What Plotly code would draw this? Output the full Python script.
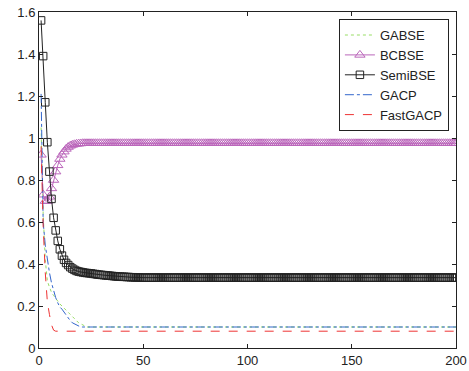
import plotly.graph_objects as go

x_vals = list(range(1, 201))

# GABSE (green dotted)
gabse_head = [1.05, 0.64, 0.42, 0.32, 0.29, 0.265, 0.25, 0.235, 0.225, 0.21,
              0.20, 0.19, 0.18, 0.17, 0.16, 0.15, 0.14, 0.13, 0.12, 0.115,
              0.11, 0.105]
gabse_plateau = 0.10

# BCBSE (purple, triangles)
bcbse_head = [0.92, 0.73, 0.70, 0.70, 0.72, 0.76, 0.80, 0.84, 0.87, 0.90,
              0.92, 0.935, 0.948, 0.957, 0.963, 0.967, 0.970, 0.972, 0.973, 0.974]
bcbse_plateau = 0.975

# SemiBSE (black, squares)
semi_head = [1.56, 1.39, 1.17, 0.98, 0.84, 0.71, 0.62, 0.56, 0.51, 0.47,
             0.44, 0.42, 0.405, 0.395, 0.385, 0.378, 0.372, 0.367, 0.364, 0.362,
             0.360, 0.358, 0.357, 0.356, 0.355, 0.353, 0.352, 0.350, 0.349, 0.348,
             0.347, 0.346, 0.345, 0.344, 0.343, 0.342, 0.341, 0.340, 0.340, 0.339,
             0.339, 0.338, 0.338, 0.337, 0.337, 0.336, 0.336, 0.336, 0.335, 0.335]
semi_plateau = 0.335

# GACP (blue dash-dot)
gacp_head = [1.21, 0.60, 0.49, 0.42, 0.36, 0.31, 0.27, 0.24, 0.215, 0.195,
             0.185, 0.17, 0.155, 0.14, 0.13, 0.12, 0.115, 0.11, 0.105]
gacp_plateau = 0.10

# FastGACP (red dashed)
fast_head = [0.96, 0.58, 0.36, 0.22, 0.16, 0.11, 0.085]
fast_plateau = 0.08


def extend(head, plateau):
    return head + [plateau] * (len(x_vals) - len(head))


gabse = extend(gabse_head, gabse_plateau)
bcbse = extend(bcbse_head, bcbse_plateau)
semi = extend(semi_head, semi_plateau)
gacp = extend(gacp_head, gacp_plateau)
fast = extend(fast_head, fast_plateau)

fig = go.Figure()
fig.add_trace(go.Scatter(x=x_vals, y=gabse, name="GABSE", mode="lines",
                         line=dict(color="#99dd66", width=1, dash="dot")))
fig.add_trace(go.Scatter(x=x_vals, y=bcbse, name="BCBSE", mode="lines+markers",
                         line=dict(color="#bb66bb", width=1),
                         marker=dict(symbol="triangle-up-open", size=9,
                                     color="#bb66bb", line=dict(width=1))))
fig.add_trace(go.Scatter(x=x_vals, y=semi, name="SemiBSE", mode="lines+markers",
                         line=dict(color="#222222", width=1),
                         marker=dict(symbol="square-open", size=7.5,
                                     color="#222222", line=dict(width=1))))
fig.add_trace(go.Scatter(x=x_vals, y=gacp, name="GACP", mode="lines",
                         line=dict(color="#3366cc", width=1, dash="dashdot")))
fig.add_trace(go.Scatter(x=x_vals, y=fast, name="FastGACP", mode="lines",
                         line=dict(color="#ee3333", width=1, dash="dash")))

axis_common = dict(showgrid=False, zeroline=False, showline=True, linecolor="#222222",
                   linewidth=1, mirror="ticks", ticks="inside", ticklen=4,
                   tickcolor="#222222", tickfont=dict(size=13, color="#222222"),
                   automargin=False)

fig.update_layout(
    width=469, height=371,
    margin=dict(l=39, r=13, t=12, b=23),
    paper_bgcolor="white", plot_bgcolor="white",
    font=dict(family="Arial, Liberation Sans, sans-serif", color="#222222"),
    xaxis=dict(range=[0, 200], dtick=50, **axis_common),
    yaxis=dict(range=[0, 1.6], dtick=0.2, **axis_common),
    legend=dict(x=0.983, y=0.979, xanchor="right", yanchor="top",
                bgcolor="white", bordercolor="#222222", borderwidth=1,
                font=dict(size=13, color="#222222"), tracegroupgap=0),
    showlegend=True,
)

fig.write_html(
    "out.html",
    config={"displayModeBar": False},
    post_script="document.body.style.margin='0px';document.body.style.overflow='hidden';",
)
